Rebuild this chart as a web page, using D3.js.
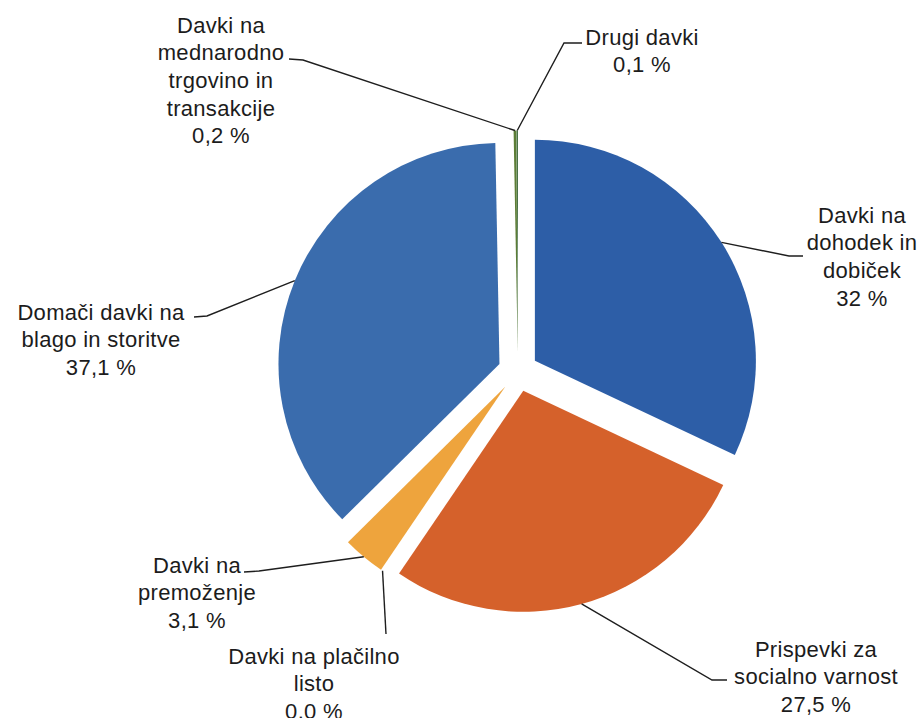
<!DOCTYPE html>
<html lang="sl">
<head>
<meta charset="UTF-8">
<title>Struktura davčnih prihodkov</title>
<script src="https://d3js.org/d3.v7.min.js"></script>
<style>
    body { margin: 0; background: #fff; }
    svg { display: block; }
    .lbl { font-family: "Liberation Sans", Arial, sans-serif; font-size: 22px; fill: #1c1c1c; text-anchor: middle; letter-spacing: 0.3px; }
    .leader { fill: none; stroke: #1e1e1e; stroke-width: 1.4px; }
</style>
</head>
<body>
<script>
    // podatki (v %)
    const categories = [
        ["Davki na", "dohodek in", "dobiček"],
        ["Prispevki za", "socialno varnost"],
        ["Davki na plačilno", "listo"],
        ["Davki na", "premoženje"],
        ["Domači davki na", "blago in storitve"],
        ["Davki na", "mednarodno", "trgovino in", "transakcije"],
        ["Drugi davki"]
    ];
    const values = [32, 27.5, 0.0, 3.1, 37.1, 0.2, 0.1];
    const valueLabels = ["32 %", "27,5 %", "0.0 %", "3,1 %", "37,1 %", "0,2 %", "0,1 %"];
    const colors = ["#2d5ea7", "#d5612b", "#e9a03e", "#eea43d", "#3a6cad", "#5c7d36", "#3e6b3c"];

    // postavitev oznak: središče x, y prve vrstice, pregib in konec črte
    const layout = [
        { x: 862, y: 215, elbow: [789, 256], end: [803, 256] },
        { x: 816, y: 649, elbow: [712, 680], end: [727, 680] },
        { x: 314, y: 656, elbow: null, end: [386, 634] },
        { x: 197, y: 565, elbow: [259, 571], end: [244, 572] },
        { x: 101, y: 312, elbow: [207, 316], end: [194, 317] },
        { x: 221, y: 25, elbow: [303, 60], end: [289, 59] },
        { x: 642, y: 37, elbow: [564, 43], end: [582, 43] }
    ];

    const width = 924, height = 718;
    const cx = 518, cy = 371.5, radius = 221, explode = 20, lineH = 27.7;

    const svg = d3.select("body").append("svg")
        .attr("width", width)
        .attr("height", height);

    const data = values.map((v, i) => ({ value: v, i: i }));
    const pie = d3.pie().value(d => d.value).sort(null);
    const arc = d3.arc().innerRadius(0).outerRadius(radius);
    const arcs = pie(data);

    // zamik izvlečenega kosa
    function offset(a) {
        const mid = (a.startAngle + a.endAngle) / 2;
        return [explode * Math.sin(mid), -explode * Math.cos(mid)];
    }

    const g = svg.append("g").attr("transform", `translate(${cx},${cy})`);

    g.selectAll("path.slice")
        .data(arcs)
        .enter().append("path")
        .attr("class", "slice")
        .attr("transform", d => { const o = offset(d); return `translate(${o[0]},${o[1]})`; })
        .attr("d", arc)
        .attr("fill", d => colors[d.data.i]);

    // črte do oznak
    g.selectAll("path.leader")
        .data(arcs)
        .enter().append("path")
        .attr("class", "leader")
        .attr("d", d => {
            const o = offset(d);
            const mid = (d.startAngle + d.endAngle) / 2;
            const p = [o[0] + radius * Math.sin(mid), o[1] - radius * Math.cos(mid)];
            const L = layout[d.data.i];
            const pts = [p];
            if (L.elbow) pts.push([L.elbow[0] - cx, L.elbow[1] - cy]);
            pts.push([L.end[0] - cx, L.end[1] - cy]);
            return d3.line()(pts);
        });

    // oznake
    categories.forEach((lines, i) => {
        const L = layout[i];
        const all = lines.concat([valueLabels[i]]);
        const t = svg.append("text")
            .attr("class", "lbl")
            .attr("x", L.x)
            .attr("y", L.y + 7.5);
        all.forEach((s, k) => {
            t.append("tspan")
                .attr("x", L.x)
                .attr("dy", k === 0 ? 0 : lineH)
                .text(s);
        });
    });
</script>
</body>
</html>
